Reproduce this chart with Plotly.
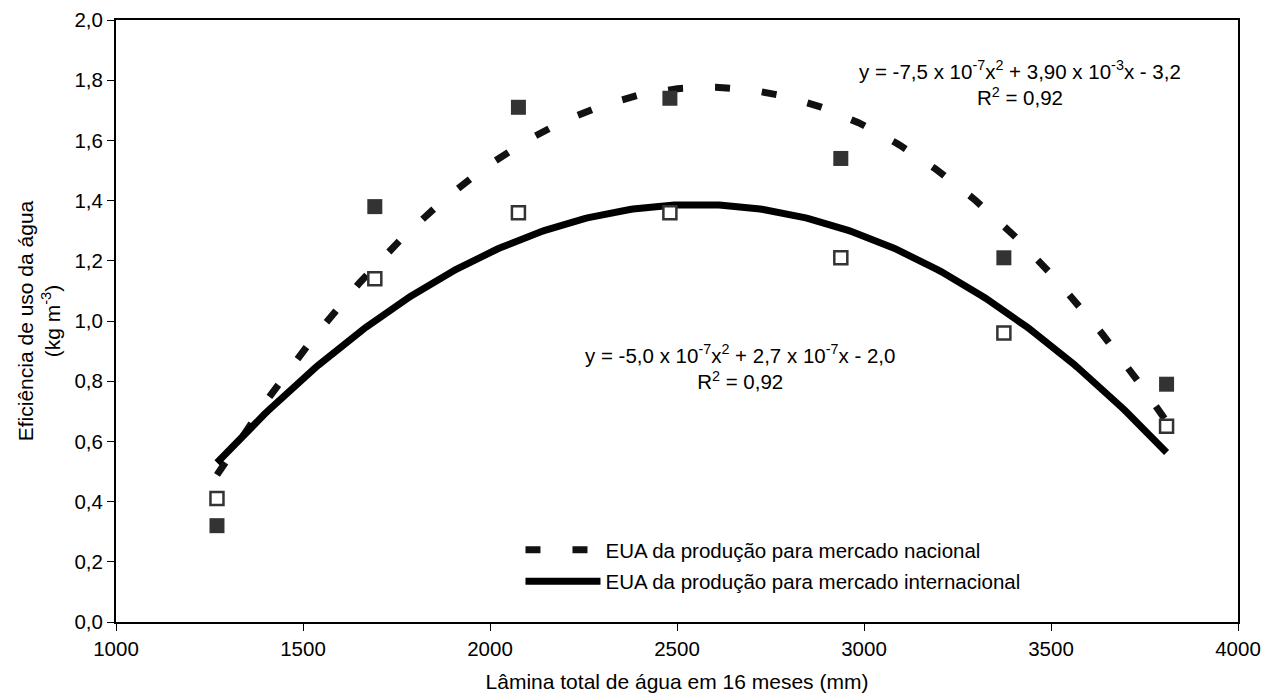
import numpy as np
import plotly.graph_objects as go

# Data
lamina = [1270, 1692, 2076, 2481, 2938, 3374, 3809]
eua_nacional = [0.32, 1.38, 1.71, 1.74, 1.54, 1.21, 0.79]
eua_internacional = [0.41, 1.14, 1.36, 1.36, 1.21, 0.96, 0.65]

nome_nacional = "EUA da produção para mercado nacional"
nome_internacional = "EUA da produção para mercado internacional"

x_ticks = [1000, 1500, 2000, 2500, 3000, 3500, 4000]
y_ticks = [0.0, 0.2, 0.4, 0.6, 0.8, 1.0, 1.2, 1.4, 1.6, 1.8, 2.0]

# Quadratic trendlines (least squares, as in the spreadsheet trendline)
xs = np.linspace(min(lamina), max(lamina), 300)
c_nac = np.polyfit(lamina, eua_nacional, 2)
c_int = np.polyfit(lamina, eua_internacional, 2)

FONT = "Liberation Sans, Arial, sans-serif"
FS = 20.5
FT = 21

fig = go.Figure()

fig.add_trace(go.Scatter(
    x=xs, y=np.polyval(c_nac, xs), mode="lines", name=nome_nacional,
    line=dict(color="#111111", width=7, dash="15px,32px"),
    legendgroup="a", hoverinfo="skip"))
fig.add_trace(go.Scatter(
    x=xs, y=np.polyval(c_int, xs), mode="lines", name=nome_internacional,
    line=dict(color="black", width=7),
    legendgroup="b", hoverinfo="skip"))

fig.add_trace(go.Scatter(
    x=lamina, y=eua_nacional, mode="markers", showlegend=False,
    marker=dict(symbol="square", size=15, color="#333333",
                line=dict(color="#333333", width=0))))
fig.add_trace(go.Scatter(
    x=lamina, y=eua_internacional, mode="markers", showlegend=False,
    marker=dict(symbol="square", size=13, color="white",
                line=dict(color="#333333", width=2.5))))

fig.add_annotation(
    x=0.806, y=0.896, xref="paper", yref="paper", showarrow=False,
    xanchor="center", yanchor="middle", align="center",
    text="y = -7,5 x 10<sup>-7</sup>x<sup>2</sup> + 3,90 x 10<sup>-3</sup>x - 3,2<br>R<sup>2</sup> = 0,92",
    font=dict(family=FONT, size=FS, color="black"))
fig.add_annotation(
    x=0.556, y=0.423, xref="paper", yref="paper", showarrow=False,
    xanchor="center", yanchor="middle", align="center",
    text="y = -5,0 x 10<sup>-7</sup>x<sup>2</sup> + 2,7 x 10<sup>-7</sup>x - 2,0<br>R<sup>2</sup> = 0,92",
    font=dict(family=FONT, size=FS, color="black"))

fig.update_layout(
    width=1277, height=697,
    margin=dict(l=116, r=39, t=20, b=75),
    paper_bgcolor="white", plot_bgcolor="white",
    separators=",.",
    font=dict(family=FONT, size=FS, color="black"),
    legend=dict(x=0.3605, y=0.153, xanchor="left", yanchor="top",
                bgcolor="rgba(0,0,0,0)", itemwidth=75,
                traceorder="grouped", tracegroupgap=2,
                font=dict(family=FONT, size=FS, color="black")),
    xaxis=dict(range=[1000, 4000], tickvals=x_ticks, showgrid=False,
               zeroline=False, showline=True, linecolor="black", linewidth=2,
               mirror=True, ticks="outside", ticklen=7, tickwidth=1,
               tickcolor="black", automargin=False,
               title=dict(text="Lâmina total de água em 16 meses (mm)",
                          standoff=16, font=dict(size=FT))),
    yaxis=dict(range=[0, 2.0], tickvals=y_ticks, tickformat=".1f",
               showgrid=False, zeroline=False, showline=True,
               linecolor="black", linewidth=2, mirror=True, automargin=False,
               ticks="outside", ticklen=7, tickwidth=1, tickcolor="black",
               title=dict(text="Eficiência de uso da água<br>(kg m<sup>-3</sup>)",
                          standoff=8, font=dict(size=FT))),
)

fig.write_html("out.html", config={"displayModeBar": False},
               post_script="document.body.style.margin='0';document.body.style.overflow='hidden';")
